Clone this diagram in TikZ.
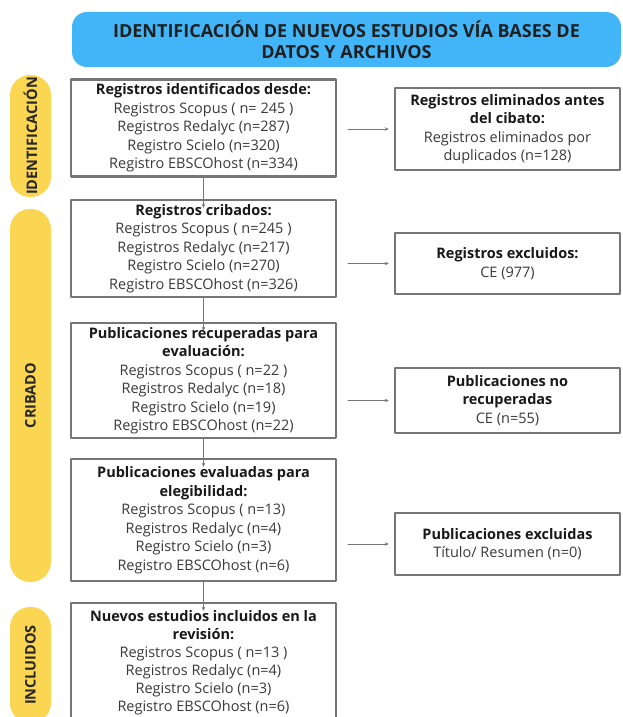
\documentclass[tikz,border=0pt]{standalone}
\usepackage{fontspec}
\setmainfont{Open Sans}
\usepackage{xcolor}
\usetikzlibrary{arrows.meta}
\definecolor{titleblue}{RGB}{66,181,248}
\definecolor{phaseyellow}{RGB}{251,214,82}
\definecolor{boxgray}{RGB}{118,118,118}
\definecolor{bodygray}{RGB}{58,58,58}
\newcommand{\hd}[1]{{\bfseries\color{black!90}#1}}

\begin{document}
\begin{tikzpicture}[x=1pt, y=-1pt, line cap=round, line join=round,
    titlebox/.style={fill=titleblue, rounded corners=15pt, align=center, inner sep=0pt,
        font=\fontsize{18}{21}\selectfont\bfseries, text=black!88},
    phasebar/.style={fill=phaseyellow, rounded corners=20pt, rotate=90, inner sep=0pt,
        minimum height=41, font=\fontsize{14.5}{16}\selectfont\bfseries, text=black!85},
    flowbox/.style={draw=boxgray, line width=2.4pt, fill=white, align=center, inner sep=0pt,
        text=bodygray, font=\fontsize{14.5}{18.5}\selectfont},
    leftbox/.style={flowbox, minimum width=265},
    rightbox/.style={flowbox, minimum width=225},
    flowarrow/.style={draw=boxgray, line width=1pt, -{Stealth[length=4pt,width=3.5pt]}}]
    \useasboundingbox (0,0) rectangle (622,717);
    \clip (0,0) rectangle (622,717);
    % title
    \node (title) [titlebox, minimum width=549, minimum height=55] at (346.5,39.5)
        {IDENTIFICACIÓN DE NUEVOS ESTUDIOS VÍA BASES DE\\DATOS Y ARCHIVOS};
    % phases
    \node (ident) [phasebar, minimum width=122] at (30.5,136) {IDENTIFICACIÓN};
    \node (crib) [phasebar, minimum width=373] at (30.5,395.5) {CRIBADO};
    \node (incl) [phasebar, minimum width=116] at (30.5,665) {INCLUIDOS};
    % left column
    \node (b1) [leftbox, minimum height=97] at (203.5,128)
        {\hd{Registros identificados desde:}\\Registros Scopus ( n= 245 )\\Registros Redalyc (n=287)\\Registro Scielo (n=320)\\Registro EBSCOhost (n=334)};
    \node (b2) [leftbox, minimum height=97] at (203.5,248.5)
        {\hd{Registros cribados:}\\Registros Scopus ( n=245 )\\Registros Redalyc (n=217)\\Registro Scielo (n=270)\\Registro EBSCOhost (n=326)};
    \node (b3) [leftbox, minimum height=115] at (203.5,380.5)
        {\hd{Publicaciones recuperadas para}\\\hd{evaluación:}\\Registros Scopus ( n=22 )\\Registros Redalyc (n=18)\\Registro Scielo (n=19)\\Registro EBSCOhost (n=22)};
    \node (b4) [leftbox, minimum height=122] at (203.5,520)
        {\hd{Publicaciones evaluadas para}\\\hd{elegibilidad:}\\Registros Scopus ( n=13)\\Registros Redalyc (n=4)\\Registro Scielo (n=3)\\Registro EBSCOhost (n=6)};
    \node (b5) [leftbox, minimum height=120, font=\fontsize{14.5}{18}\selectfont] at (203.5,663)
        {\hd{Nuevos estudios incluidos en la}\\\hd{revisión:}\\Registros Scopus ( n=13 )\\Registros Redalyc (n=4)\\Registro Scielo (n=3)\\Registro EBSCOhost (n=6)};
    % right column
    \node (r1) [rightbox, minimum height=82] at (507.5,129)
        {\hd{Registros eliminados antes}\\\hd{del cibato:}\\Registros eliminados por\\duplicados (n=128)};
    \node (r2) [rightbox, minimum height=61] at (507.5,263.5)
        {\hd{Registros excluidos:}\\CE (977)};
    \node (r3) [rightbox, minimum height=65] at (507.5,400.5)
        {\hd{Publicaciones no}\\\hd{recuperadas}\\CE (n=55)};
    \node (r4) [rightbox, minimum height=62] at (507.5,544)
        {\hd{Publicaciones excluidas}\\Título/ Resumen (n=0)};
    % arrows
    \foreach \i/\j in {b1/b2, b2/b3, b3/b4, b4/b5}
        \draw [flowarrow, shorten >=-9pt] (\i.south) -- (\j.north);
    \foreach \r/\yy in {r1/129, r2/263.5, r3/400.5, r4/544} {
        \coordinate (a\r) at (348,\yy);
        \draw [flowarrow, shorten >=5pt] (a\r) -- (a\r -| \r.west);
    }
\end{tikzpicture}
\end{document}
